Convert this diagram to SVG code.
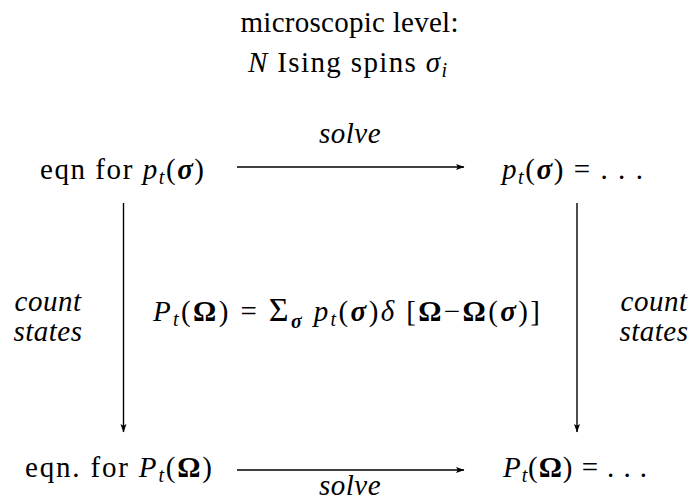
<svg xmlns="http://www.w3.org/2000/svg" width="691" height="502" viewBox="0 0 691 502">
<style>
text{font-family:"Liberation Serif","Times New Roman",Tinos,"DejaVu Serif","Noto Serif",serif;font-size:29px;fill:#000}
.i{font-style:italic}
.b{font-weight:bold}
.sub{font-size:20px}
.big{font-size:34px}
.lbl{font-style:italic;text-anchor:middle;letter-spacing:0.5px}
.ln{stroke:#000;stroke-width:1.4;fill:none}
</style>
<defs>
<marker id="ah" markerUnits="userSpaceOnUse" markerWidth="10" markerHeight="8" refX="8" refY="4" orient="auto">
<path d="M0,1 L8.5,4 L0,7 L1.8,4 Z" fill="#000"/>
</marker>
</defs>
<rect width="691" height="502" fill="#fff"/>
<g id="title">
<text x="349.5" y="32" text-anchor="middle" textLength="218">microscopic level:</text>
<text x="248" y="72" textLength="199"><tspan class="i">N</tspan> Ising spins <tspan class="i">σ</tspan><tspan class="i sub" dy="5">i</tspan></text>
</g>
<g id="eqn-micro">
<text x="40" y="179" textLength="164">eqn for <tspan class="i">p</tspan><tspan class="i sub" dy="5">t</tspan><tspan dy="-5">(</tspan><tspan class="i b">σ</tspan>)</text>
</g>
<g id="sol-micro">
<text x="502" y="179" textLength="141"><tspan class="i">p</tspan><tspan class="i sub" dy="5">t</tspan><tspan dy="-5">(</tspan><tspan class="i b">σ</tspan>) = . . .</text>
</g>
<g id="relation">
<text x="153" y="321" textLength="387"><tspan class="i">P</tspan><tspan class="i sub" dy="5">t</tspan><tspan dy="-5">(</tspan><tspan class="b">Ω</tspan>) = <tspan class="big">Σ</tspan><tspan class="i b sub" dy="7">σ</tspan><tspan dy="-7"> </tspan><tspan class="i">p</tspan><tspan class="i sub" dy="5">t</tspan><tspan dy="-5">(</tspan><tspan class="i b">σ</tspan>)<tspan class="i">δ</tspan> [<tspan class="b">Ω</tspan>−<tspan class="b">Ω</tspan>(<tspan class="i b">σ</tspan>)]</text>
</g>
<g id="eqn-macro">
<text x="25" y="477" textLength="187">eqn. for <tspan class="i">P</tspan><tspan class="i sub" dy="5">t</tspan><tspan dy="-5">(</tspan><tspan class="b">Ω</tspan>)</text>
</g>
<g id="sol-macro">
<text x="503" y="477" textLength="144"><tspan class="i">P</tspan><tspan class="i sub" dy="5">t</tspan><tspan dy="-5">(</tspan><tspan class="b">Ω</tspan>) = . . .</text>
</g>
<g id="connectors">
<path class="ln" d="M237,167 H464" marker-end="url(#ah)"/>
<path class="ln" d="M237,470 H464" marker-end="url(#ah)"/>
<path class="ln" d="M123.5,203 V432" marker-end="url(#ah)"/>
<path class="ln" d="M577,203 V432" marker-end="url(#ah)"/>
<text class="lbl" x="350" y="143">solve</text>
<text class="lbl" x="350" y="495">solve</text>
<text class="lbl" x="48" y="311">count</text>
<text class="lbl" x="48" y="341">states</text>
<text class="lbl" x="654" y="311">count</text>
<text class="lbl" x="654" y="341">states</text>
</g>
</svg>
